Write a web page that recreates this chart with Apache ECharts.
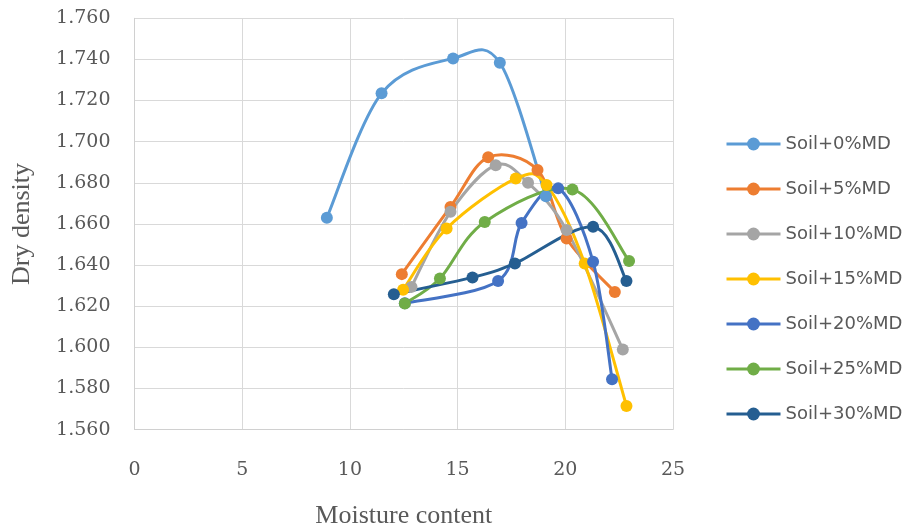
<!DOCTYPE html>
<html>
<head>
<meta charset="utf-8">
<title>Dry density vs moisture content</title>
<script src="https://cdn.jsdelivr.net/npm/echarts@6/dist/echarts.min.js"></script>
<style>
  html, body { margin: 0; padding: 0; background: #fff; }
  #chart { width: 910px; height: 529px; }
</style>
</head>
<body>
<div id="chart"></div>
<script>
// series names and colours (Excel office palette)
var seriesNames = ['Soil+0%MD', 'Soil+5%MD', 'Soil+10%MD', 'Soil+15%MD', 'Soil+20%MD', 'Soil+25%MD', 'Soil+30%MD']
var colors = ['#5B9BD5', '#ED7D31', '#A5A5A5', '#FFC000', '#4472C4', '#70AD47', '#255E91']

// [moisture content, dry density]
var soil0 = [[8.93, 1.663], [11.47, 1.7235], [14.79, 1.7405], [16.96, 1.7384], [19.1, 1.6735]]
var soil5 = [[12.41, 1.6356], [14.67, 1.6683], [16.42, 1.6924], [18.71, 1.6862], [20.06, 1.6529], [22.3, 1.6269]]
var soil10 = [[12.86, 1.6294], [14.67, 1.6659], [16.77, 1.6886], [18.27, 1.680], [20.06, 1.657], [22.67, 1.599]]
var soil15 = [[12.47, 1.628], [14.49, 1.6578], [17.7, 1.6821], [19.13, 1.6789], [20.9, 1.6408], [22.84, 1.5715]]
var soil20 = [[12.55, 1.6214], [16.88, 1.6323], [17.97, 1.6605], [19.67, 1.6773], [21.29, 1.6416], [22.17, 1.5845]]
var soil25 = [[12.55, 1.6213], [14.18, 1.6335], [16.26, 1.661], [20.33, 1.6768], [22.96, 1.642]]
var soil30 = [[12.04, 1.6258], [15.69, 1.634], [17.66, 1.6408], [21.29, 1.6586], [22.84, 1.6323]]

var allData = [soil0, soil5, soil10, soil15, soil20, soil25, soil30]

var textColor = '#595959'
var gridColor = '#d9d9d9'

var chart = echarts.init(document.getElementById('chart'))

// excel style smoothed curve: bezier between point i and i+1, control
// points from the neighbours (catmull-rom, 1/6), worked out in pixels
function curveSeries(d, color) {
  return {
    type: 'custom',
    data: d,
    encode: { x: 0, y: 1 },
    silent: true,
    renderItem: function (params, api) {
      var idx = params.dataIndex
      if (idx >= d.length - 1) return
      var pts = d.map(function (p) { return api.coord(p) })
      var p0 = pts[Math.max(idx - 1, 0)]
      var p1 = pts[idx]
      var p2 = pts[idx + 1]
      var p3 = pts[Math.min(idx + 2, pts.length - 1)]
      var k = 1 / 6
      return {
        type: 'bezierCurve',
        shape: {
          x1: p1[0], y1: p1[1],
          x2: p2[0], y2: p2[1],
          cpx1: p1[0] + (p2[0] - p0[0]) * k,
          cpy1: p1[1] + (p2[1] - p0[1]) * k,
          cpx2: p2[0] - (p3[0] - p1[0]) * k,
          cpy2: p2[1] - (p3[1] - p1[1]) * k
        },
        style: { stroke: color, lineWidth: 3, fill: null, lineCap: 'round' }
      }
    }
  }
}

var series = []
allData.forEach(function (d, i) {
  series.push(curveSeries(d, colors[i]))
  // markers (and legend entry); the line itself comes from the curve above
  series.push({
    name: seriesNames[i],
    type: 'line',
    data: d,
    symbol: 'circle',
    symbolSize: 12,
    lineStyle: { width: 3, color: colors[i], opacity: 0 },
    itemStyle: { color: colors[i] },
    emphasis: { disabled: true }
  })
})

var option = {
  animation: false,
  color: colors,
  grid: {
    left: 134.5,
    right: 237,
    top: 18.3,
    bottom: 99.4,
    outerBoundsMode: 'none'
  },
  legend: {
    orient: 'vertical',
    left: 720,
    top: 130,
    itemWidth: 54,
    itemHeight: 16,
    itemGap: 27,
    lineStyle: { width: 3, opacity: 1 },
    textStyle: {
      fontFamily: 'DejaVu Sans',
      fontSize: 18,
      color: textColor
    },
    data: seriesNames
  },
  xAxis: {
    type: 'value',
    min: 0,
    max: 25,
    interval: 5,
    name: 'Moisture content',
    nameLocation: 'middle',
    nameGap: 74,
    nameTextStyle: {
      fontFamily: 'Liberation Serif',
      fontSize: 26,
      color: textColor
    },
    axisLine: { show: true, lineStyle: { color: '#d0d0d0', width: 1 } },
    axisTick: { show: false },
    axisLabel: {
      margin: 31,
      fontFamily: 'DejaVu Serif',
      fontSize: 19,
      color: textColor
    },
    splitLine: { show: true, lineStyle: { color: gridColor, width: 1 } }
  },
  yAxis: {
    type: 'value',
    min: 1.56,
    max: 1.76,
    interval: 0.02,
    name: 'Dry density',
    nameLocation: 'middle',
    nameGap: 99,
    nameTextStyle: {
      fontFamily: 'Liberation Serif',
      fontSize: 26,
      color: textColor
    },
    axisLine: { show: true, lineStyle: { color: '#d0d0d0', width: 1 } },
    axisTick: { show: false },
    axisLabel: {
      margin: 24,
      fontFamily: 'DejaVu Serif',
      fontSize: 19,
      color: textColor,
      formatter: function (v) { return v.toFixed(3) }
    },
    splitLine: { show: true, lineStyle: { color: gridColor, width: 1 } }
  },
  series: series
}

chart.setOption(option)
</script>
</body>
</html>
